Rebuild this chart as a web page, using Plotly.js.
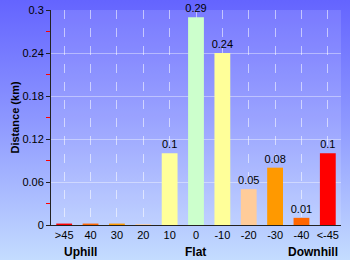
<!DOCTYPE html>
<html><head><meta charset="utf-8">
<script src="https://cdn.plot.ly/plotly-3.0.1.min.js"></script>
<style>
html,body{margin:0;padding:0;}
#chart{width:350px;height:260px;background:linear-gradient(to bottom,#6464ff 0%,#8c96ff 45%,#c4dcff 100%);}
</style></head><body>
<div id="chart"></div>
<script>
const categories = ['>45','40','30','20','10','0','-10','-20','-30','-40','<-45'];
const distances = [0.002,0.002,0.002,0.001,0.1,0.29,0.24,0.05,0.08,0.01,0.1];
const barColors = ['#ff0000','#ff6600','#ff9900','#ffcc99','#ffff99','#ccffcc','#ffff99','#ffcc99','#ff9900','#ff6600','#ff0000'];
const labels = distances.map(v => v >= 0.01 ? String(v) : '');
const groupNames = ['Uphill','Flat','Downhill'];
const groupPos = [0.1,0.497,0.903];
const yTicks = [0,0.06,0.12,0.18,0.24,0.3];

const font = {family:'Liberation Sans, Arial, sans-serif', size:11, color:'#000'};
const trace = {
  type:'bar', x:categories, y:distances, width:0.6,
  marker:{color:barColors, line:{width:0}},
  text:labels, textposition:'outside', cliponaxis:false, constraintext:'none',
  textfont:{family:font.family,size:11,color:'#000'},
  hoverinfo:'none'
};
const layout = {
  width:350, height:260,
  margin:{l:51,r:9,t:10,b:35},
  paper_bgcolor:'rgba(0,0,0,0)',
  plot_bgcolor:'rgba(255,255,255,0.12)',
  font:font, showlegend:false, bargap:0.4,
  xaxis:{type:'category', showline:true, linecolor:'#222', linewidth:1,
    showgrid:true, gridcolor:'rgba(255,255,255,0.55)', griddash:'dash', gridwidth:1,
    ticks:'', tickfont:font, fixedrange:true},
  yaxis:{range:[0,0.3], tickvals:yTicks, ticktext:yTicks.map(String),
    showline:true, linecolor:'#222', linewidth:1,
    showgrid:true, gridcolor:'rgba(255,255,255,0.4)', zeroline:false,
    ticks:'outside', ticklen:4, tickcolor:'#222', tickfont:font,
    minor:{dtick:0.03, ticks:'outside', ticklen:4, tickcolor:'#ff0000', showgrid:false},
    title:{text:'<b>Distance (km)</b>', font:{family:font.family,size:11,color:'#000'}, standoff:0}},
  annotations: groupNames.map((g,i)=>({text:'<b>'+g+'</b>', xref:'paper', yref:'paper',
    x:groupPos[i], y:-0.127, xanchor:'center', yanchor:'middle', showarrow:false,
    font:{family:font.family,size:12,color:'#000'}}))
};
Plotly.newPlot('chart',[trace],layout,{staticPlot:true,displayModeBar:false});
</script></body></html>
